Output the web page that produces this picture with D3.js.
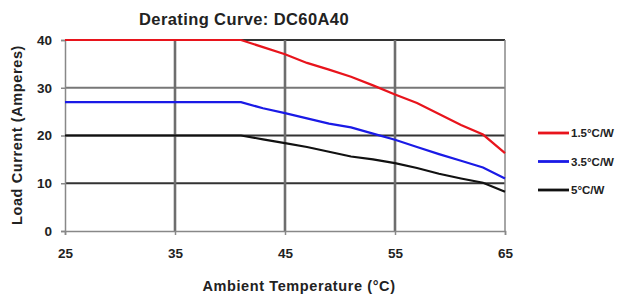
<!DOCTYPE html>
<html>
<head>
<meta charset="utf-8">
<script src="https://cdn.jsdelivr.net/npm/d3@7"></script>
<style>
  body { margin: 0; background: #fff; }
  text { font-family: "Liberation Sans", Arial, sans-serif; font-weight: bold; fill: #222; }
</style>
</head>
<body>
<div id="chart"></div>
<script>
const temps = [25, 41, 43, 45, 47, 49, 51, 53, 55, 57, 59, 61, 63, 65];
const red15 = [40, 40, 38.5, 37, 35.2, 33.8, 32.3, 30.5, 28.6, 26.8, 24.5, 22.2, 20.2, 16.3];
const blue35 = [27, 27, 25.7, 24.7, 23.6, 22.5, 21.7, 20.4, 19.1, 17.6, 16.1, 14.7, 13.3, 11];
const black5 = [20, 20, 19.2, 18.4, 17.6, 16.6, 15.6, 15.0, 14.2, 13.2, 12.0, 11.0, 10.1, 8.2];
const seriesNames = ["1.5°C/W", "3.5°C/W", "5°C/W"];
const seriesColors = ["#e8141c", "#1a1ae6", "#111"];
const xTicks = [25, 35, 45, 55, 65];
const yTicks = [0, 10, 20, 30, 40];

const width = 620, height = 299;
const margin = { left: 65, right: 115, top: 40, bottom: 68 };

const svg = d3.select("#chart").append("svg")
  .attr("width", width).attr("height", height);

const x = d3.scaleLinear().domain([25, 65]).range([margin.left, width - margin.right]);
const y = d3.scaleLinear().domain([0, 40]).range([height - margin.bottom, margin.top]);

// horizontal gridlines
svg.append("g").selectAll("line").data(yTicks.filter(d => d > 0)).enter().append("line")
  .attr("x1", x(25)).attr("x2", x(65))
  .attr("y1", d => y(d)).attr("y2", d => y(d))
  .attr("stroke", d => d === 30 ? "#777" : "#333")
  .attr("stroke-width", 1.8);

// vertical gridlines
svg.append("g").selectAll("line").data(xTicks.filter(d => d > 25)).enter().append("line")
  .attr("x1", d => x(d)).attr("x2", d => x(d))
  .attr("y1", y(0)).attr("y2", y(40))
  .attr("stroke", d => d === 65 ? "#888" : "#6e6e6e")
  .attr("stroke-width", d => d === 65 ? 1.5 : 2.6);

// axes
const xAxis = svg.append("g")
  .attr("transform", `translate(0,${y(0)})`)
  .call(d3.axisBottom(x).tickValues(xTicks).tickSize(4).tickPadding(13));
const yAxis = svg.append("g")
  .attr("transform", `translate(${x(25)},0)`)
  .call(d3.axisLeft(y).tickValues(yTicks).tickSize(4).tickPadding(9));
[xAxis, yAxis].forEach(a => {
  a.select(".domain").attr("stroke", "#888").attr("stroke-width", 1.5);
  a.selectAll(".tick line").attr("stroke", "#888").attr("stroke-width", 1.5);
  a.selectAll(".tick text").style("font-size", "13.5px").attr("fill", "#222");
});

// series
const line = d3.line().x((d, i) => x(temps[i])).y(d => y(d));
[red15, blue35, black5].forEach((s, i) => {
  svg.append("path").datum(s)
    .attr("d", line)
    .attr("fill", "none")
    .attr("stroke", seriesColors[i])
    .attr("stroke-width", 2.2);
});

// legend
const legend = svg.append("g");
seriesNames.forEach((n, i) => {
  const ly = 133 + i * 28.5;
  legend.append("line")
    .attr("x1", 538).attr("x2", 569).attr("y1", ly).attr("y2", ly)
    .attr("stroke", seriesColors[i]).attr("stroke-width", 2.8);
  legend.append("text")
    .attr("x", 571).attr("y", ly + 4)
    .style("font-size", "11.5px")
    .text(n);
});

// titles
svg.append("text")
  .attr("x", 244).attr("y", 25)
  .attr("text-anchor", "middle")
  .style("font-size", "16.5px")
  .style("letter-spacing", "0.4px")
  .text("Derating Curve: DC60A40");

svg.append("text")
  .attr("x", 299).attr("y", 291)
  .attr("text-anchor", "middle")
  .style("font-size", "14.5px")
  .style("letter-spacing", "0.6px")
  .text("Ambient Temperature (°C)");

svg.append("text")
  .attr("transform", "translate(22,135) rotate(-90)")
  .attr("text-anchor", "middle")
  .style("font-size", "14.5px")
  .style("letter-spacing", "0.6px")
  .text("Load Current (Amperes)");
</script>
</body>
</html>
